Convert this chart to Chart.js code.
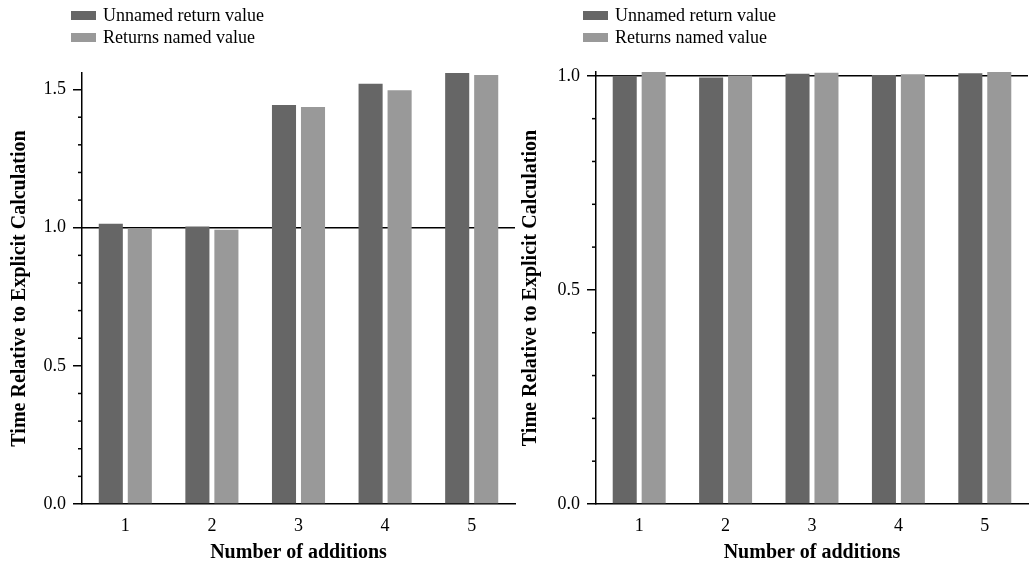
<!DOCTYPE html>
<html>
<head>
<meta charset="utf-8">
<script src="https://cdn.jsdelivr.net/npm/chart.js@4/dist/chart.umd.min.js"></script>
<style>
    html, body { margin: 0; padding: 0; background: #fff; }
    #wrap { position: relative; width: 1033px; height: 566px; }
    canvas { position: absolute; top: 0; }
    #grafico-esq { left: 0; }
    #grafico-dir { left: 517px; }
</style>
</head>
<body>
<div id="wrap">
    <canvas id="grafico-esq" width="517" height="566"></canvas>
    <canvas id="grafico-dir" width="516" height="566"></canvas>
</div>
<script>
const ADDITIONS = ['1', '2', '3', '4', '5'];
const SERIES_NAMES = ['Unnamed return value', 'Returns named value'];
const SERIES_COLORS = ['#666666', '#999999'];

// left panel
const LEFT_UNNAMED = [1.014, 1.004, 1.444, 1.521, 1.560];
const LEFT_NAMED = [0.998, 0.993, 1.437, 1.498, 1.553];

// right panel
const RIGHT_UNNAMED = [1.000, 0.996, 1.005, 1.002, 1.006];
const RIGHT_NAMED = [1.009, 1.001, 1.007, 1.004, 1.009];

const REFERENCE = 1.0;
const Y_TITLE = 'Time Relative to Explicit Calculation';
const X_TITLE = 'Number of additions';

Chart.defaults.font.family = '"Liberation Serif", "Times New Roman", serif';
Chart.defaults.font.size = 18;
Chart.defaults.color = '#000';

function isMajor(v) {
    return Math.abs(v * 2 - Math.round(v * 2)) < 1e-6;
}

// horizontal line at 1.0, behind the bars
const refLine = {
    id: 'refLine',
    beforeDatasetsDraw(chart) {
        const { ctx, chartArea } = chart;
        const y = chart.scales.y.getPixelForValue(REFERENCE);
        ctx.save();
        ctx.strokeStyle = '#000';
        ctx.lineWidth = 1.5;
        ctx.beginPath();
        ctx.moveTo(chartArea.left, y);
        ctx.lineTo(chartArea.right, y);
        ctx.stroke();
        ctx.restore();
    }
};

// short minor ticks on the y axis
const minorTicks = {
    id: 'minorTicks',
    afterDraw(chart) {
        const { ctx } = chart;
        const scale = chart.scales.y;
        const x = scale.right;
        ctx.save();
        ctx.strokeStyle = '#000';
        ctx.lineWidth = 1.5;
        scale.ticks.forEach(t => {
            if (isMajor(t.value)) return;
            const y = scale.getPixelForValue(t.value);
            ctx.beginPath();
            ctx.moveTo(x - 4, y);
            ctx.lineTo(x, y);
            ctx.stroke();
        });
        ctx.restore();
    }
};

// legend stacked in two rows at the top left
const stackedLegend = {
    id: 'stackedLegend',
    afterDraw(chart, args, opts) {
        const { ctx } = chart;
        ctx.save();
        ctx.font = '18px "Liberation Serif", "Times New Roman", serif';
        ctx.textBaseline = 'middle';
        ctx.fillStyle = '#000';
        chart.data.datasets.forEach((ds, i) => {
            const top = opts.y + i * 22;
            ctx.fillStyle = ds.backgroundColor;
            ctx.fillRect(opts.x, top, 25, 9);
            ctx.fillStyle = '#000';
            ctx.fillText(ds.label, opts.x + 32, top + 5);
        });
        ctx.restore();
    }
};

function makePanel(id, unnamed, named, layout) {
    const values = unnamed.concat(named);
    return new Chart(document.getElementById(id), {
        type: 'bar',
        data: {
            labels: ADDITIONS,
            datasets: [
                {
                    label: SERIES_NAMES[0],
                    data: unnamed,
                    backgroundColor: SERIES_COLORS[0],
                    categoryPercentage: 0.67,
                    barPercentage: 0.83
                },
                {
                    label: SERIES_NAMES[1],
                    data: named,
                    backgroundColor: SERIES_COLORS[1],
                    categoryPercentage: 0.67,
                    barPercentage: 0.83
                }
            ]
        },
        options: {
            responsive: false,
            animation: false,
            devicePixelRatio: 1,
            layout: {
                padding: { left: 0, top: layout.top, right: layout.right, bottom: 0 }
            },
            plugins: {
                legend: { display: false },
                tooltip: { enabled: false },
                stackedLegend: { x: layout.legendX, y: 11 }
            },
            scales: {
                x: {
                    grid: { display: true, drawOnChartArea: false, drawTicks: false },
                    border: { color: '#000', width: 1.5 },
                    ticks: { padding: 11 },
                    title: {
                        display: true,
                        text: X_TITLE,
                        font: { size: 20, weight: 'bold' },
                        padding: { top: 0, bottom: 1 }
                    },
                    afterFit(scale) { scale.height = 62; }
                },
                y: {
                    min: 0,
                    max: Math.max(...values),
                    grid: {
                        drawOnChartArea: false,
                        tickLength: 9,
                        lineWidth: 1.5,
                        color: ctx => (ctx.tick && isMajor(ctx.tick.value)) ? '#000' : 'rgba(0,0,0,0)'
                    },
                    border: { color: '#000', width: 1.5 },
                    ticks: {
                        stepSize: 0.1,
                        includeBounds: false,
                        autoSkip: false,
                        padding: 7,
                        callback: v => isMajor(v) ? v.toFixed(1) : ''
                    },
                    title: {
                        display: true,
                        text: Y_TITLE,
                        font: { size: 20, weight: 'bold' },
                        padding: { top: layout.titlePad, bottom: 0 }
                    },
                    afterFit(scale) { scale.width = layout.axisWidth; }
                }
            }
        },
        plugins: [refLine, minorTicks, stackedLegend]
    });
}

makePanel('grafico-esq', LEFT_UNNAMED, LEFT_NAMED, { top: 73, right: 2, axisWidth: 82, titlePad: 7.5, legendX: 71 });
makePanel('grafico-dir', RIGHT_UNNAMED, RIGHT_NAMED, { top: 72, right: 5, axisWidth: 79, titlePad: 2, legendX: 66 });
</script>
</body>
</html>
